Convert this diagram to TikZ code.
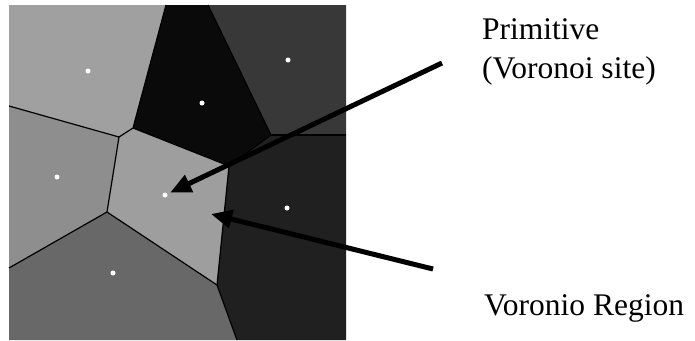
\documentclass[tikz,border=0pt]{standalone}
\usepackage{fontspec}
\setmainfont{Liberation Serif}
\usetikzlibrary{arrows.meta}
\definecolor{cellTL}{RGB}{160,160,160}
\definecolor{cellBk}{RGB}{10,10,10}
\definecolor{cellTR}{RGB}{56,56,56}
\definecolor{cellL}{RGB}{142,142,142}
\definecolor{cellC}{RGB}{158,158,158}
\definecolor{cellR}{RGB}{32,32,32}
\definecolor{cellB}{RGB}{104,104,104}

\begin{document}
\begin{tikzpicture}[x=1pt, y=-1pt,
    edge/.style={draw=black, line width=1.2pt, line join=round},
    site/.style={circle, fill=white, inner sep=0pt, minimum size=5pt},
    arr/.style={-{Triangle[length=21pt, width=18pt]}, line width=5pt},
    lbl/.style={font=\fontsize{31.5}{39}\selectfont, anchor=base west, inner sep=0pt, align=left},
]
\useasboundingbox (0,0) rectangle (695,340);

% Voronoi vertices
\coordinate (a) at (166,5);
\coordinate (b) at (208,5);
\coordinate (c) at (133,128);
\coordinate (d) at (119,137);
\coordinate (e) at (271,135);
\coordinate (f) at (346,135);
\coordinate (g) at (229,166);
\coordinate (h) at (9,106);
\coordinate (i) at (107,212);
\coordinate (j) at (9,268);
\coordinate (k) at (217,285);
\coordinate (l) at (237,340);

% Regions
\fill[cellTL] (9,5) -- (a) -- (c) -- (d) -- (h) -- cycle;
\fill[cellBk] (a) -- (b) -- (e) -- (g) -- (c) -- cycle;
\fill[cellTR] (b) -- (346,5) -- (f) -- (e) -- cycle;
\fill[cellL] (h) -- (d) -- (i) -- (j) -- cycle;
\fill[cellC] (c) -- (g) -- (k) -- (i) -- (d) -- cycle;
\fill[cellR] (e) -- (f) -- (346,340) -- (l) -- (k) -- (g) -- cycle;
\fill[cellB] (j) -- (i) -- (k) -- (l) -- (9,340) -- cycle;

% Edges
\draw[edge] (h) -- (d) -- (c) -- (a);
\draw[edge] (c) -- (g) -- (e) -- (b);
\draw[edge] (e) -- (f);
\draw[edge] (d) -- (i) -- (j);
\draw[edge] (i) -- (k) -- (l);
\draw[edge] (g) -- (k);

% Sites
\node[site] (sTL) at (88,71) {};
\node[site] (sBk) at (202,103) {};
\node[site] (sTR) at (288,60) {};
\node[site] (sL) at (57,177) {};
\node[site] (sC) at (165,195) {};
\node[site] (sR) at (287,208) {};
\node[site] (sB) at (113,273) {};

% Labels
\node[lbl] (prim) at (482,78) {Primitive\\(Voronoi site)};
\node[lbl] (reg) at (484,315) {Voronio Region};

% Arrows
\coordinate (p1) at (442,63);
\coordinate (p2) at (433,269);
\coordinate (rg) at (211,214);
\draw[arr, shorten >=3pt] (p1) -- (sC);
\draw[arr] (p2) -- (rg);
\end{tikzpicture}
\end{document}
